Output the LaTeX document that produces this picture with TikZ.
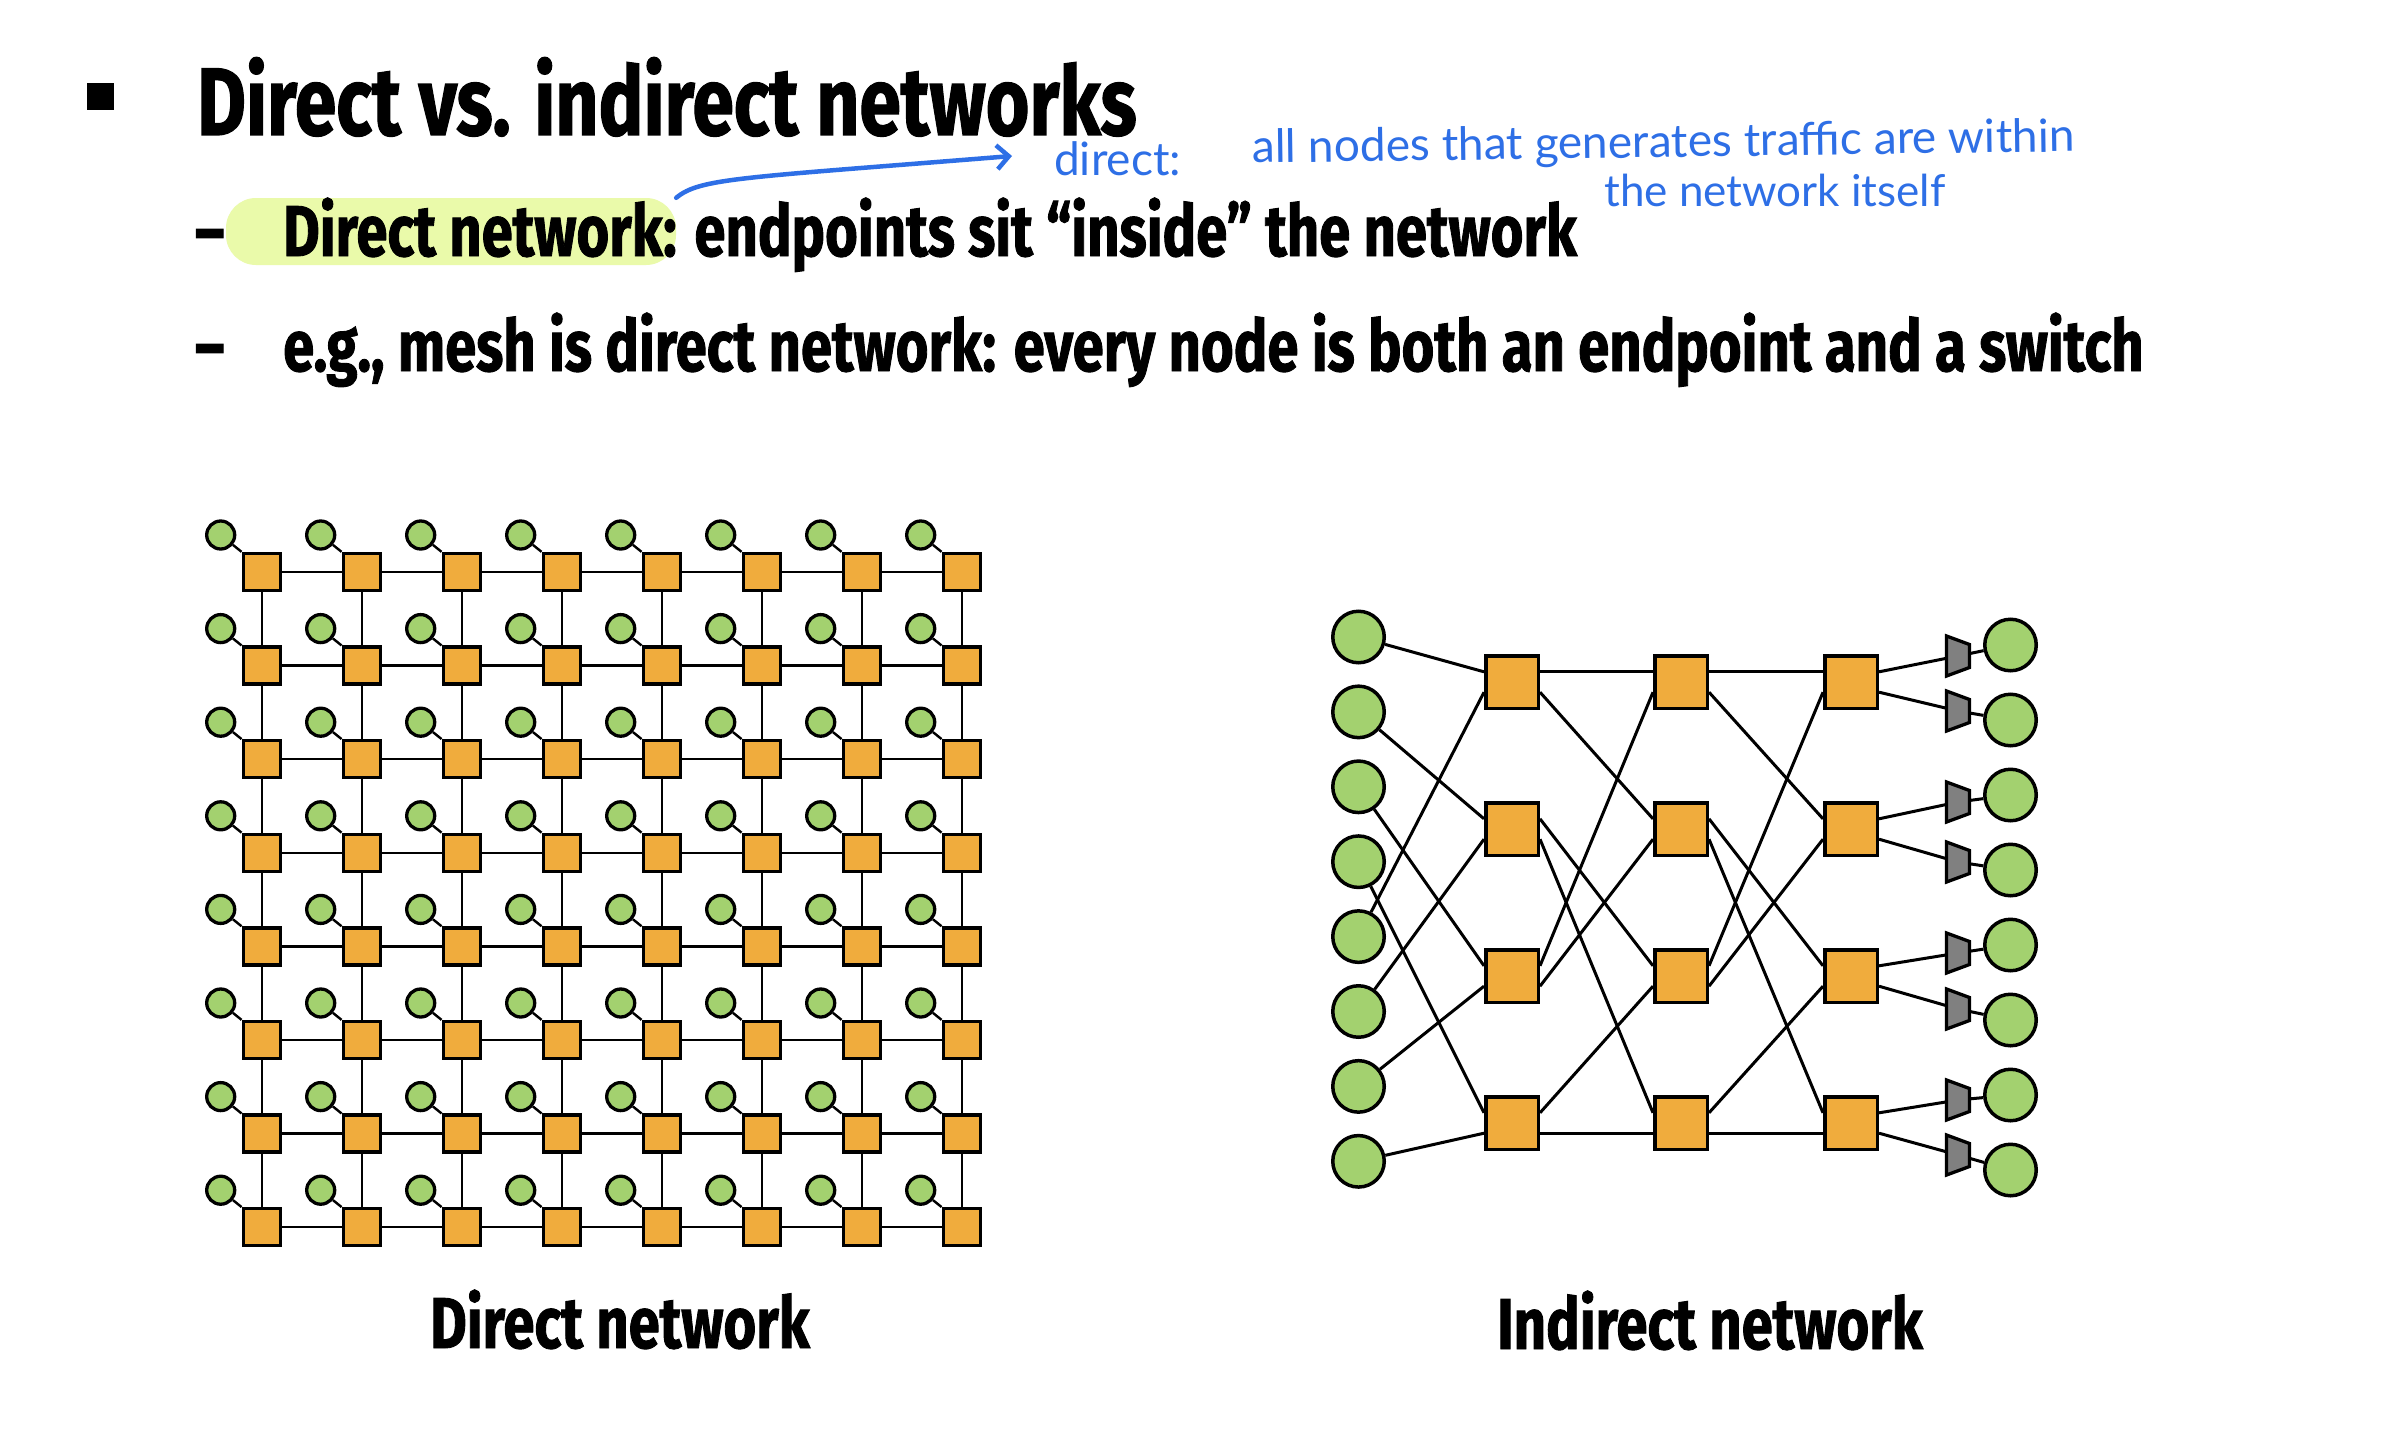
\documentclass[tikz,border=0pt]{standalone}
\usepackage{fontspec}
\setmainfont{Fira Sans}[FakeStretch=0.78, BoldFeatures={FakeBold=1.2}]
\newfontfamily\handfont{Lato}
\usetikzlibrary{arrows.meta, positioning}

\begin{document}
\begin{tikzpicture}[x=1pt, y=-1pt,
    endpoint/.style={circle, draw=black, fill=nodegreen, line width=3.3pt, inner sep=0pt, minimum size=28pt},
    router/.style={rectangle, draw=black, fill=nodeorange, line width=3.3pt, inner sep=0pt, minimum size=37pt},
    bigendpoint/.style={endpoint, line width=3.5pt, minimum size=51.5pt},
    bigrouter/.style={router, line width=3.5pt, minimum size=52.5pt},
    portbox/.style={rectangle, inner sep=0pt, outer sep=0pt, minimum width=23pt, minimum height=40pt},
    portshape/.style={draw=black, fill=portgray, line width=3.3pt, line join=miter},
    link/.style={line width=2.4pt},
    biglink/.style={line width=3pt},
    slidetext/.style={anchor=base west, inner sep=0pt, font=\bfseries\fontsize{72}{80}\selectfont},
    note/.style={anchor=base west, inner sep=0pt, text=noteblue, font=\handfont\fontsize{46}{50}\selectfont}]
    % Colors
    \definecolor{nodegreen}{RGB}{163, 209, 111}
    \definecolor{nodeorange}{RGB}{240, 172, 61}
    \definecolor{portgray}{RGB}{128, 128, 128}
    \definecolor{hlgreen}{RGB}{234, 250, 170}
    \definecolor{noteblue}{RGB}{46, 111, 230}

    % Page
    \fill[white] (0,0) rectangle (2381,1453);
    \useasboundingbox (0,0) rectangle (2381,1453);

    % Title and bullets
    \node[fill=black, minimum size=27pt, inner sep=0pt] (bullet) at (100.5, 96.5) {};
    \node[slidetext, font=\bfseries\fontsize{96}{100}\selectfont] (title) at (197, 135) {Direct vs. indirect networks};
    \node[fill=hlgreen, rounded corners=30pt, minimum width=450pt, minimum height=67pt, inner sep=0pt] (hl) at (451, 231.5) {};
    \node[slidetext] (dash1) at (195, 256) {–};
    \node[slidetext] (line1) at (283, 256) {Direct network: endpoints sit “inside” the network};
    \node[slidetext] (dash2) at (195, 371) {–};
    \node[slidetext] (line2) at (283, 371) {e.g., mesh is direct network: every node is both an endpoint and a switch};

    % Handwritten notes
    \node[note] (dirnote) at (1054, 175) {direct:};
    \node[note, rotate=0.8] (note1) at (1252, 163) {all nodes that generates traffic are within};
    \node[note, font=\handfont\fontsize{44}{48}\selectfont] (note2) at (1604, 206) {the network itself};
    \coordinate (tip) at (1012, 156);
    \draw[noteblue, line width=4.5pt, line cap=round, -{Straight Barb[length=12pt, width=24pt]}] (hl.north east) .. controls (700,178) and (740,178) .. (tip);

    % Mesh: routers with their endpoints
    \foreach \i in {0,...,7}
      \foreach \j in {0,...,7} {
        \node[router] (m-\i-\j) at ({261.7+100*\i}, {572+93.6*\j}) {};
        \node[endpoint] (e-\i-\j) at ({220.7+100*\i}, {535+93.6*\j}) {};
        \draw[link] (e-\i-\j) -- (m-\i-\j.north west);
      }
    % Mesh links
    \foreach \i in {0,...,7}
      \foreach \j [count=\k] in {0,...,6} {
        \draw[link] (m-\j-\i) -- (m-\k-\i);
        \draw[link] (m-\i-\j) -- (m-\i-\k);
      }
    \node[slidetext, anchor=base] (dlabel) at (620, 1348) {Direct network};

    % Indirect network: endpoints, switches, ports
    \foreach \k in {1,...,8}
      \node[bigendpoint] (in\k) at (1358.5, {637+74.9*(\k-1)}) {};
    \foreach \c/\x in {1/1512, 2/1681, 3/1851}
      \foreach \r in {1,...,4}
        \node[bigrouter] (s\c\r) at (\x, {682+147*(\r-1)}) {};
    \foreach \k/\y in {1/656, 2/711, 3/802, 4/862, 5/953, 6/1009, 7/1100, 8/1155} {
      \node[portbox] (p\k) at (1958, \y) {};
      \filldraw[portshape] (p\k.north west) -- ([yshift=-8.5pt]p\k.north east)
        -- ([yshift=8.5pt]p\k.south east) -- (p\k.south west) -- cycle;
    }
    \foreach \k in {1,...,8}
      \node[bigendpoint] (out\k) at (2010.5, {645+75*(\k-1)}) {};

    % Indirect links
    \foreach \k/\m in {1/5, 2/6, 3/7, 4/8} {
      \draw[biglink] (in\k) -- (s1\k.160);
      \draw[biglink] (in\m) -- (s1\k.200);
    }
    \foreach \c/\d in {1/2, 2/3} {
      \draw[biglink] (s\c1.20) -- (s\d1.160);
      \draw[biglink] (s\c1.340) -- (s\d2.160);
      \draw[biglink] (s\c2.20) -- (s\d3.160);
      \draw[biglink] (s\c2.340) -- (s\d4.160);
      \draw[biglink] (s\c3.20) -- (s\d1.200);
      \draw[biglink] (s\c3.340) -- (s\d2.200);
      \draw[biglink] (s\c4.20) -- (s\d3.200);
      \draw[biglink] (s\c4.340) -- (s\d4.200);
    }
    \foreach \r/\u/\l in {1/1/2, 2/3/4, 3/5/6, 4/7/8} {
      \draw[biglink] (s3\r.20) -- (p\u);
      \draw[biglink] (s3\r.340) -- (p\l);
    }
    \foreach \k in {1,...,8}
      \draw[biglink] (p\k) -- (out\k);
    \node[slidetext, anchor=base] (ilabel) at (1710, 1349) {Indirect network};
\end{tikzpicture}
\end{document}
